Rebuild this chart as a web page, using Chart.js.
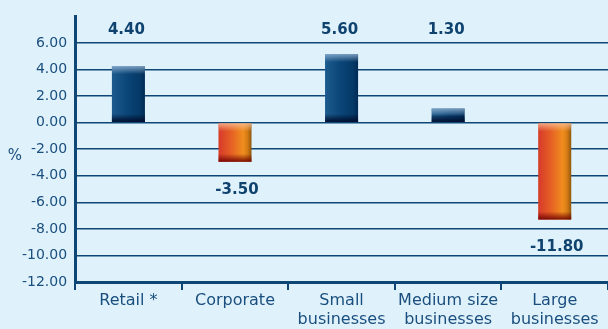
<!DOCTYPE html>
<html>
<head>
<meta charset="utf-8">
<script src="https://cdn.jsdelivr.net/npm/chart.js@4/dist/chart.umd.min.js"></script>
<style>
html,body{margin:0;padding:0;background:#dff2fb;}
#wrap{width:608px;height:329px;position:relative;}
</style>
</head>
<body>
<div id="wrap"><canvas id="c"></canvas></div>
<script>
const categories = [["Retail *"], ["Corporate"], ["Small", "businesses"], ["Medium size", "businesses"], ["Large", "businesses"]];
const barValues = [4.25, -2.95, 5.17, 1.07, -7.3];
const valueLabels = ["4.40", "-3.50", "5.60", "1.30", "-11.80"];
const yTicks = [-12, -10, -8, -6, -4, -2, 0, 2, 4, 6];

const TXT = '#1a4e7e';
const LINE = '#0e4675';
const BAR_PCT = 0.31;

function barGradient(ctx) {
  const chart = ctx.chart;
  const xs = chart.scales.x;
  if (!xs || !chart.chartArea) return barValues[ctx.dataIndex] >= 0 ? '#0b4677' : '#e8692a';
  const cx = xs.getPixelForValue(ctx.dataIndex);
  const w = (chart.chartArea.right - chart.chartArea.left) / categories.length * BAR_PCT;
  const g = chart.ctx.createLinearGradient(cx - w / 2, 0, cx + w / 2, 0);
  if (barValues[ctx.dataIndex] >= 0) {
    g.addColorStop(0, '#1d5b8e');
    g.addColorStop(0.5, '#0a4476');
    g.addColorStop(0.85, '#053967');
    g.addColorStop(1, '#012a55');
  } else {
    g.addColorStop(0, '#d63a2a');
    g.addColorStop(0.35, '#e45c25');
    g.addColorStop(0.75, '#f08e1e');
    g.addColorStop(0.88, '#d47a14');
    g.addColorStop(1, '#8e560c');
  }
  return g;
}

const shadePlugin = {
  id: 'shade',
  afterDatasetsDraw(chart) {
    const c = chart.ctx;
    const meta = chart.getDatasetMeta(0);
    meta.data.forEach((el, i) => {
      const pos = barValues[i] >= 0;
      const left = el.x - el.width / 2;
      const top = Math.min(el.y, el.base);
      const bot = Math.max(el.y, el.base);
      c.save();
      let g = c.createLinearGradient(0, top, 0, top + 8);
      g.addColorStop(0, pos ? 'rgba(160,190,220,0.75)' : 'rgba(250,190,150,0.8)');
      g.addColorStop(1, pos ? 'rgba(160,190,220,0)' : 'rgba(250,190,150,0)');
      c.fillStyle = g;
      c.fillRect(left, top, el.width, Math.min(8, bot - top));
      g = c.createLinearGradient(0, bot - 8, 0, bot);
      g.addColorStop(0, pos ? 'rgba(0,10,40,0)' : 'rgba(110,0,0,0)');
      g.addColorStop(1, pos ? 'rgba(0,10,40,0.95)' : 'rgba(110,0,0,0.9)');
      c.fillStyle = g;
      c.fillRect(left, Math.max(top, bot - 8), el.width, Math.min(8, bot - top));
      c.restore();
    });
  },
  afterDraw(chart) {
    const c = chart.ctx;
    const meta = chart.getDatasetMeta(0);
    c.save();
    c.fillStyle = '#0f426f';
    c.font = 'bold 15px "DejaVu Sans"';
    c.textAlign = 'center';
    c.textBaseline = 'middle';
    meta.data.forEach((el, i) => {
      const y = barValues[i] >= 0 ? chart.chartArea.top + 14 : Math.max(el.y, el.base) + 28;
      c.fillText(valueLabels[i], el.x + (barValues[i] >= 0 ? -2 : 2), y);
    });
    c.fillStyle = TXT;
    c.font = '15px "DejaVu Sans"';
    c.fillText('%', 15, chart.scales.y.getPixelForValue(-2.5));
    c.restore();
  }
};

new Chart(document.getElementById('c'), {
  type: 'bar',
  data: {
    labels: categories,
    datasets: [{
      data: barValues,
      backgroundColor: barGradient,
      borderWidth: 0,
      barPercentage: BAR_PCT,
      categoryPercentage: 1
    }]
  },
  options: {
    responsive: true,
    maintainAspectRatio: false,
    animation: false,
    events: [],
    layout: { padding: { top: 14, left: 14, right: 0, bottom: 0 } },
    plugins: { legend: { display: false }, tooltip: { enabled: false } },
    scales: {
      x: {
        offset: true,
        afterFit(scale) { scale.height = 47; },
        grid: {
          offset: true,
          drawOnChartArea: false,
          color: LINE,
          lineWidth: 2,
          tickLength: 8
        },
        border: { color: LINE, width: 3 },
        ticks: {
          color: TXT,
          font: { family: 'DejaVu Sans', size: 16, lineHeight: 1.2 },
          padding: 1,
          maxRotation: 0,
          autoSkip: false
        }
      },
      y: {
        min: -12,
        max: 8,
        afterBuildTicks(axis) { axis.ticks = yTicks.concat([8]).map(v => ({ value: v })); },
        grid: {
          color: ctx => (ctx.tick && ctx.tick.value === 8) ? 'rgba(0,0,0,0)' : LINE,
          lineWidth: 1.5,
          drawTicks: false
        },
        border: { color: LINE, width: 3 },
        ticks: {
          color: TXT,
          font: { family: 'DejaVu Sans', size: 14 },
          padding: 8,
          callback: v => v === 8 ? '' : Number(v).toFixed(2)
        }
      }
    }
  },
  plugins: [shadePlugin]
});
</script>
</body>
</html>
